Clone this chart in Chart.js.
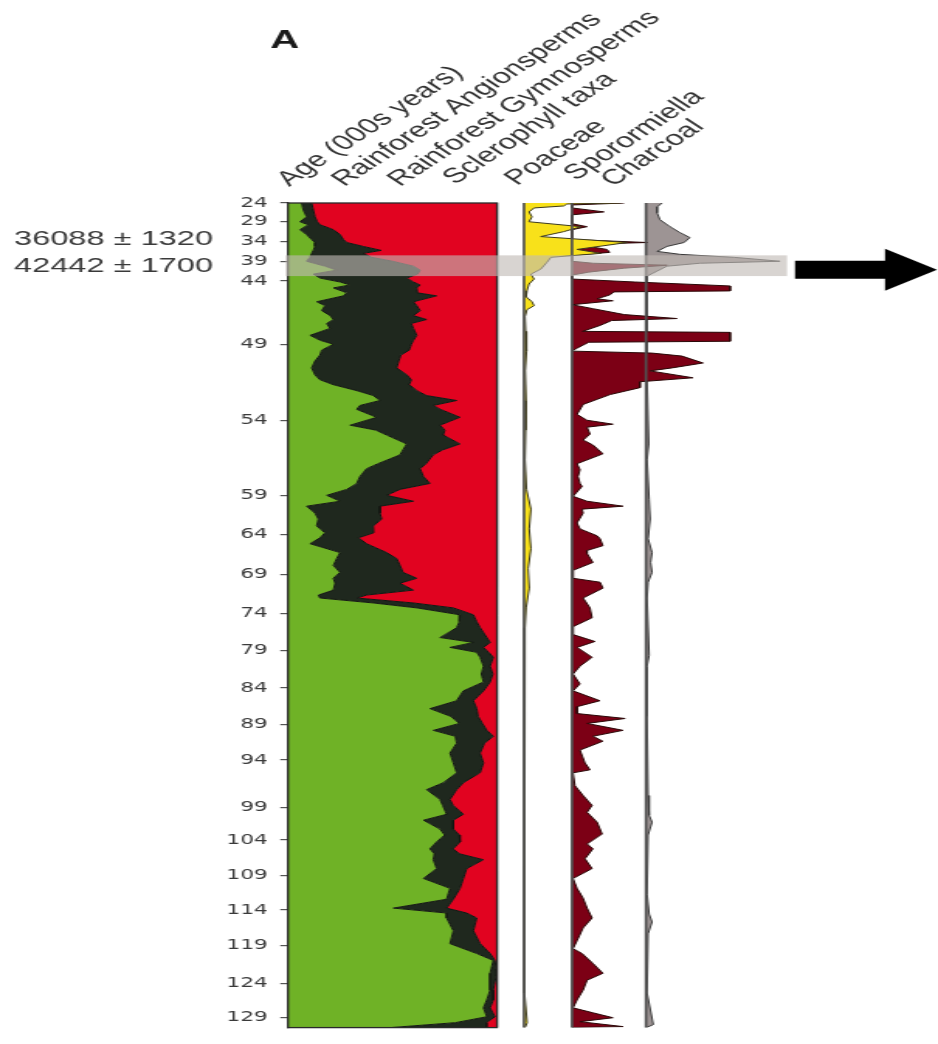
<!DOCTYPE html>
<html><head><meta charset="utf-8">
<script src="https://cdn.jsdelivr.net/npm/chart.js@4.4.1/dist/chart.umd.min.js"></script>
<style>
html,body{margin:0;padding:0;background:#fff;overflow:hidden}
#c{position:absolute;left:0;top:0}
</style>
</head><body>
<canvas id="c" width="605" height="1044" style="width:938px;height:1044px"></canvas>
<script>
// ---------------- DATA ----------------
const ageTickLabels = ['24','29','34','39','44','49','54','59','64','69','74','79','84','89','94','99','104','109','114','119','124','129'];
const ageTickDepths = [0,19,39,59,79,143,220,296,336,376,416,453,491,528,564,612,645,681,716,752,790,825];
const coreBottomDepth = 835;

const pollenDepths = [0,7,14,19,22,27,32,37,40,44,48,51,55,59,64,68,72,76,80,83,86,91,94,100,104,109,114,118,122,127,134,139,143,149,154,160,167,174,179,184,190,195,200,205,209,217,225,230,235,244,250,255,264,269,277,284,290,296,302,307,314,320,327,334,339,345,354,360,367,374,380,385,392,397,400,405,410,417,424,430,440,445,450,455,460,469,477,485,494,504,512,520,527,534,540,547,557,567,577,587,594,604,610,619,625,634,640,647,654,659,665,674,684,694,705,714,719,724,737,750,760,767,780,797,807,815,824,830,835];
const rainforestAngiosperms = [6.5,7.3,8.9,5.7,9.7,5.7,8.9,11.3,12.9,12.9,12.1,11.3,10.5,8.9,17.7,23.3,12.1,15.3,24.9,29.7,21.7,28.1,26.5,13.7,17.7,16.1,20.1,21.7,18.5,20.1,10.5,15.3,21.7,16.1,15.3,12.9,11.3,12.9,15.3,21.7,32.9,40.8,44.0,34.4,32.9,42.4,29.7,42.0,47.2,56.8,55.0,53.6,43.0,37.6,34.4,32.9,28.1,18.5,24.9,8.9,12.9,14.5,13.7,17.7,15.3,10.5,24.9,23.3,21.7,24.9,21.7,22.5,21.7,14.5,15.3,40.8,61.6,82.3,82.0,80.7,72.7,88.7,77.5,90.3,91.9,93.5,92.5,93.5,83.9,80.7,67.9,78.0,82.0,69.5,80.0,80.7,77.5,79.1,80.7,74.3,66.3,72.7,74.0,75.9,64.8,72.7,75.0,71.1,67.9,70.0,69.5,71.1,64.8,77.5,75.9,50.4,75.9,75.9,79.1,77.5,90.3,98.2,96.7,96.7,95.1,93.5,95.1,80.0,49.0];
const rainforestGymnosperms = [4.8,4.8,4.0,8.3,5.6,16.0,16.0,15.2,15.2,23.1,32.5,24.7,29.5,41.1,42.3,39.9,49.9,41.5,35.1,33.5,39.9,33.9,44.6,46.3,43.9,47.1,39.9,44.6,40.5,39.9,51.1,44.7,37.3,41.9,38.7,40.1,40.7,43.9,43.7,36.3,28.7,25.5,36.7,35.1,40.1,39.9,43.0,33.0,27.1,25.5,19.0,15.9,23.0,25.6,30.4,35.0,25.5,28.7,35.1,35.1,31.1,30.3,27.1,23.3,18.4,27.1,22.3,28.7,31.9,30.1,39.9,31.1,38.3,23.1,17.6,19.2,17.5,6.4,8.3,11.2,22.4,8.0,16.0,5.7,6.3,3.2,5.5,3.2,9.6,8.0,22.4,13.0,11.0,25.6,18.2,13.3,14.4,14.4,11.2,9.6,14.4,4.8,5.0,8.0,14.3,6.4,7.0,11.2,11.1,12.0,24.0,14.4,19.1,4.8,3.2,25.5,9.6,14.4,9.6,14.4,6.4,0.8,3.1,1.5,3.1,3.2,3.9,15.0,46.0];
const sclerophyllTaxa = [88.7,87.9,87.1,86.0,84.7,78.3,75.1,73.5,71.9,64.0,55.4,64.0,60.0,50.0,40.0,36.8,38.0,43.2,40.0,36.8,38.4,38.0,28.9,40.0,38.4,36.8,40.0,33.7,41.0,40.0,38.4,40.0,41.0,42.0,46.0,47.0,48.0,43.2,41.0,42.0,38.4,33.7,19.3,30.5,27.0,17.7,27.3,25.0,25.7,17.7,26.0,30.5,34.0,36.8,35.2,32.1,46.4,52.8,40.0,56.0,56.0,55.2,59.2,59.0,66.3,62.4,52.8,48.0,46.4,45.0,38.4,46.4,40.0,62.4,67.1,40.0,20.9,11.3,9.7,8.1,4.9,3.3,6.5,4.0,1.8,3.3,2.0,3.3,6.5,11.3,9.7,9.0,7.0,4.9,1.8,6.0,8.1,6.5,8.1,16.1,19.3,22.5,21.0,16.1,20.9,20.9,18.0,17.7,21.0,18.0,6.5,14.5,16.1,17.7,20.9,24.1,14.5,9.7,11.3,8.1,3.3,1.0,0.2,1.8,1.8,3.3,1.0,5.0,5.0];

const poaceaeDepths = [0,1,3,5,9,14,19,24,29,34,40,47,51,55,60,67,72,77,82,89,95,100,104,108,115,130,150,170,200,230,260,290,310,330,350,370,390,410,430,460,520,600,700,800,830,835];
const poaceae = [46.4,20.6,19.0,4.8,2.4,3.8,2.4,27.3,19.0,8.0,49.3,25.4,36.8,12.9,11.0,8.0,3.3,4.8,2.4,1.4,1.0,3.8,4.8,1.4,0.5,0.8,1.2,0.6,1.0,0.8,0.5,1.2,3.3,2.5,3.3,2.0,2.5,1.0,0.5,0.3,0.2,0.3,0.2,0.3,1.5,0.5];

const sporormiellaDepths = [0,2,5,9,12,21,24,27,37,40,42,47,50,53,59,61,63,66,70,73,77,80,84,89,90,93,97,99,103,107,113,117,119,124,130,131,140,141,147,150,152,155,162,167,170,177,181,187,194,204,214,220,224,227,234,240,245,254,264,270,277,284,287,297,302,307,310,314,324,330,337,340,347,352,355,364,372,380,384,390,400,410,420,429,437,444,450,460,469,477,487,494,504,510,517,522,527,534,540,545,554,567,574,577,590,600,610,617,627,639,649,654,664,674,684,694,704,714,724,734,747,755,760,770,780,787,797,807,815,820,825,829,834,835];
const sporormiella = [25.0,0,0,15.3,0,0,7.2,0,0,36.0,2.0,16.7,18.0,0,0,10.0,45.5,25.0,8.0,0,0,30.0,75.6,75.6,20.0,18.2,12.0,19.6,0,10.0,25.0,50.2,19.0,13.4,5.0,75.6,75.6,8.0,2.4,0,38.3,52.6,62.7,47.8,37.3,57.9,32.5,32.5,18.2,5.3,2.4,7.2,19.6,7.2,8.6,5.3,10.0,14.8,2.4,3.8,2.9,3.8,4.8,0.5,7.2,24.4,4.8,5.3,2.4,3.8,12.0,13.4,14.8,7.0,7.2,10.0,0.5,0.5,13.4,14.8,5.3,8.6,9.6,0.5,0.5,11.0,2.4,9.6,3.8,0.5,3.8,0.5,13.4,2.4,2.4,25.4,7.2,24.4,10.0,14.8,3.8,6.2,8.6,0.5,1.4,5.3,9.6,7.2,12.0,14.4,7.2,10.0,6.2,9.6,0.5,2.4,5.3,7.2,9.6,5.3,2.4,0.5,4.8,10.0,14.8,7.2,5.3,2.4,0.5,10.0,19.6,3.8,24.4,0];

const charcoalDepths = [0,4,10,17,24,30,35,40,44,49,52,55,59,61,64,69,74,80,120,180,244,260,300,320,340,354,364,374,384,400,458,470,520,600,620,627,640,700,720,728,740,800,832,835];
const charcoal = [7.7,5.3,5.3,6.7,11.5,16.3,21.0,18.2,10.0,5.3,16.3,42.0,64.1,25.8,10.0,5.3,0.5,0.3,0.8,0.5,1.3,0.5,1.5,2.0,1.0,2.9,2.2,2.9,1.0,0.5,1.5,0.4,0.5,1.0,1.5,2.9,1.0,0.5,1.5,2.9,1.0,0.5,3.5,0];

const datedInterval = [53, 74];
const dateLabels = ['36088 \u00b1 1320', '42442 \u00b1 1700'];
const panelLetter = 'A';
const columnTitles = ['Age (000s years)','Rainforest Angionsperms','Rainforest Gymnosperms','Sclerophyll taxa','Poaceae','Sporormiella','Charcoal'];

// ---------------- LAYOUT (pixels of the 938px-wide picture) ----------------
const CW = 605, CH = 1044;
const SX = 938 / CW;                  // horizontal stretch of the picture
const L = {
  plotLeft: 288 / SX, pollenRight: 497 / SX, plotRight: 787 / SX,
  top: 203, bottom: 1038, yAxisWidth: 40
};
const unit = (L.pollenRight - L.plotLeft) / 100;
function panelRange(zeroPx) {
  const min = -(zeroPx / SX - L.plotLeft) / unit;
  return { min: min, max: min + (L.plotRight - L.plotLeft) / unit };
}
const titlePos = [[289,187],[344,187],[400,187],[455,185],[517,186],[576,181],[613,187]];

const pts = (depths, vals) => depths.map((d, i) => ({ x: vals[i], y: d }));
const lineDs = (label, depths, vals, axis, bg, border, fill) => ({
  label, data: pts(depths, vals), xAxisID: axis, backgroundColor: bg,
  borderColor: border, borderWidth: 1, fill, pointRadius: 0, tension: 0
});

const decor = {
  id: 'decor',
  afterDatasetsDraw(chart) {
    const { ctx, chartArea: a, scales } = chart;
    ctx.save();
    ctx.strokeStyle = '#505050';
    ctx.lineWidth = 1.7;
    ['xPoa', 'xSpo', 'xCha'].forEach(id => {
      const x = scales[id].getPixelForValue(0);
      ctx.beginPath(); ctx.moveTo(x, a.top); ctx.lineTo(x, a.bottom); ctx.stroke();
    });
    const x0 = scales.xPollen.getPixelForValue(0), x1 = scales.xPollen.getPixelForValue(100);
    ctx.strokeStyle = '#2a2a2a';
    ctx.lineWidth = 1.3;
    ctx.strokeRect(x0, a.top, x1 - x0, a.bottom - a.top);
    const yb0 = scales.y.getPixelForValue(datedInterval[0]);
    const yb1 = scales.y.getPixelForValue(datedInterval[1]);
    ctx.fillStyle = 'rgba(192,186,180,0.62)';
    ctx.fillRect(x0 - 1.5, yb0, a.right - x0 + 1.5, yb1 - yb0);
    ctx.restore();
  },
  afterDraw(chart) {
    const { ctx, scales } = chart;
    ctx.save();
    ctx.fillStyle = '#1a1a1a';
    ctx.font = 'bold 26px "Liberation Sans", Arial, sans-serif';
    ctx.textBaseline = 'alphabetic';
    ctx.fillText(panelLetter, 270 / SX, 48);
    ctx.fillStyle = '#333';
    ctx.font = '21px "Liberation Sans", Arial, sans-serif';
    columnTitles.forEach((t, i) => {
      ctx.save();
      ctx.translate(titlePos[i][0] / SX, titlePos[i][1]);
      ctx.rotate(-Math.PI / 4);
      ctx.fillText(t, 0, 0);
      ctx.restore();
    });
    ctx.fillStyle = '#3a3a3a';
    ctx.font = '21px "Liberation Sans", Arial, sans-serif';
    ctx.textAlign = 'right';
    ctx.fillText(dateLabels[0], 213 / SX, 245);
    ctx.fillText(dateLabels[1], 213 / SX, 272);
    const yb0 = scales.y.getPixelForValue(datedInterval[0]);
    const yb1 = scales.y.getPixelForValue(datedInterval[1]);
    const ay = (yb0 + yb1) / 2 + 4;
    const xs = 795 / SX, xh = 885 / SX, xt = 937 / SX;
    ctx.fillStyle = '#000';
    ctx.beginPath();
    ctx.moveTo(xs, ay - 9); ctx.lineTo(xh, ay - 9); ctx.lineTo(xh, ay - 21);
    ctx.lineTo(xt, ay); ctx.lineTo(xh, ay + 21); ctx.lineTo(xh, ay + 9);
    ctx.lineTo(xs, ay + 9); ctx.closePath(); ctx.fill();
    ctx.restore();
  }
};

new Chart(document.getElementById('c'), {
  type: 'line',
  data: {
    datasets: [
      lineDs('Rainforest Angionsperms', pollenDepths, rainforestAngiosperms, 'xPollen', '#6fb226', '#151a12', 'origin'),
      lineDs('Rainforest Gymnosperms', pollenDepths, rainforestGymnosperms, 'xPollen', '#1f281e', '#111611', '-1'),
      lineDs('Sclerophyll taxa', pollenDepths, sclerophyllTaxa, 'xPollen', '#e10320', '#2e2a2a', '-1'),
      lineDs('Poaceae', poaceaeDepths, poaceae, 'xPoa', '#f8e11a', '#3c3a1f', 'origin'),
      lineDs('Sporormiella', sporormiellaDepths, sporormiella, 'xSpo', '#7c0015', '#2a0808', 'origin'),
      lineDs('Charcoal', charcoalDepths, charcoal, 'xCha', '#9d9494', '#3a3a3a', 'origin')
    ]
  },
  options: {
    indexAxis: 'y',
    responsive: false,
    animation: false,
    devicePixelRatio: 1,
    layout: { padding: { left: L.plotLeft - L.yAxisWidth, right: CW - L.plotRight, top: L.top, bottom: CH - L.bottom } },
    plugins: { legend: { display: false }, tooltip: { enabled: false } },
    scales: {
      y: {
        type: 'linear', reverse: true, min: 0, max: coreBottomDepth, bounds: 'data',
        afterBuildTicks: ax => { ax.ticks = ageTickDepths.map(v => ({ value: v })); },
        afterFit: ax => { ax.width = L.yAxisWidth; },
        ticks: {
          autoSkip: false, padding: 8, color: '#3a3a3a',
          font: { family: '"DejaVu Sans", sans-serif', size: 14 },
          callback: (v, i) => ageTickLabels[i]
        },
        grid: { drawOnChartArea: false, tickLength: 5, color: '#555', lineWidth: 1.2 },
        border: { display: true, color: '#2a2a2a', width: 1.3 }
      },
      xPollen: Object.assign({ type: 'linear', display: false, stacked: true, bounds: 'data' }, panelRange(288)),
      xPoa: Object.assign({ type: 'linear', display: false, bounds: 'data' }, panelRange(524)),
      xSpo: Object.assign({ type: 'linear', display: false, bounds: 'data' }, panelRange(572)),
      xCha: Object.assign({ type: 'linear', display: false, bounds: 'data' }, panelRange(646))
    }
  },
  plugins: [decor]
});
</script>
</body></html>
